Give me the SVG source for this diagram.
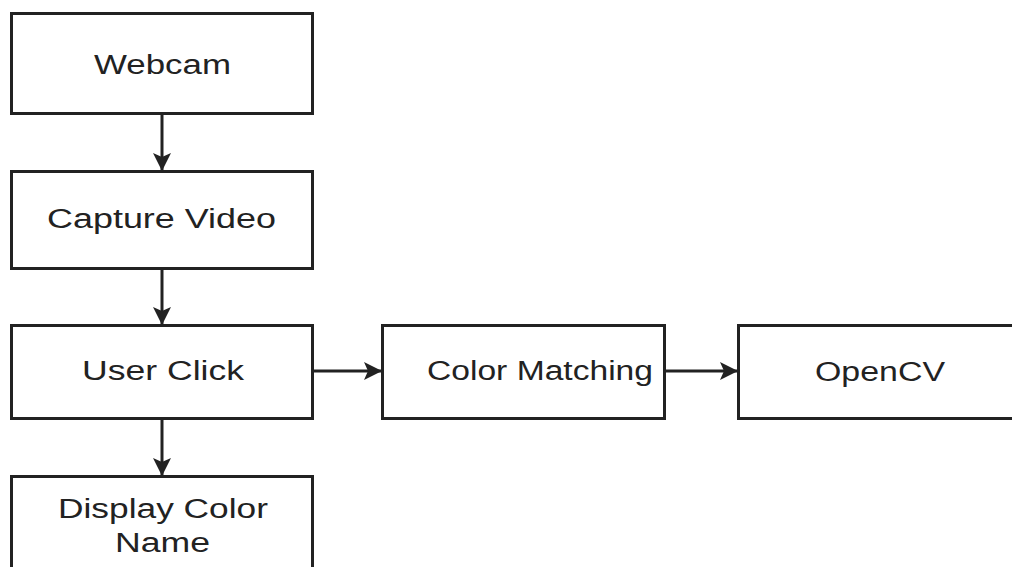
<svg xmlns="http://www.w3.org/2000/svg" width="1012" height="567" viewBox="0 0 1012 567">
  <style>
    .box { fill: #ffffff; stroke: #222222; stroke-width: 3; }
    .lbl { font-family: "Liberation Sans", Arial, sans-serif; font-size: 27px; fill: #222222; text-anchor: middle; }
    .conn { stroke: #222222; stroke-width: 3; fill: none; }
  </style>
  <defs>
    <marker id="arrow" viewBox="0 0 18 18" refX="17" refY="9" markerWidth="18" markerHeight="18" markerUnits="userSpaceOnUse" orient="auto">
      <path d="M0,0 L18,9 L0,18 L4,9 Z" fill="#222222"/>
    </marker>
  </defs>
  <rect width="1012" height="567" fill="#ffffff"/>

  <g id="connectors">
    <line class="conn" x1="162" y1="114" x2="162" y2="170" marker-end="url(#arrow)"/>
    <line class="conn" x1="162" y1="269" x2="162" y2="324" marker-end="url(#arrow)"/>
    <line class="conn" x1="162" y1="419" x2="162" y2="475" marker-end="url(#arrow)"/>
    <line class="conn" x1="313" y1="371" x2="381" y2="371" marker-end="url(#arrow)"/>
    <line class="conn" x1="665" y1="371" x2="737" y2="371" marker-end="url(#arrow)"/>
  </g>

  <g id="node-webcam">
    <rect class="box" x="11.5" y="13.5" width="301" height="100"/>
    <text class="lbl" transform="translate(162.5,74) scale(1.32,1)" textLength="103.8" lengthAdjust="spacingAndGlyphs">Webcam</text>
  </g>
  <g id="node-capture-video">
    <rect class="box" x="11.5" y="171.5" width="301" height="97"/>
    <text class="lbl" transform="translate(161.5,228) scale(1.32,1)" textLength="173.5" lengthAdjust="spacingAndGlyphs">Capture Video</text>
  </g>
  <g id="node-user-click">
    <rect class="box" x="11.5" y="325.5" width="301" height="93"/>
    <text class="lbl" transform="translate(163,380) scale(1.32,1)" textLength="122.7" lengthAdjust="spacingAndGlyphs">User Click</text>
  </g>
  <g id="node-display-color-name">
    <rect class="box" x="11.5" y="476.5" width="301" height="110"/>
    <text class="lbl" transform="translate(163,518) scale(1.32,1)" textLength="159.1" lengthAdjust="spacingAndGlyphs">Display Color</text>
    <text class="lbl" transform="translate(162.5,552) scale(1.32,1)" textLength="72" lengthAdjust="spacingAndGlyphs">Name</text>
  </g>
  <g id="node-color-matching">
    <rect class="box" x="382.5" y="325.5" width="282" height="93"/>
    <text class="lbl" transform="translate(540,380) scale(1.32,1)" textLength="171.2" lengthAdjust="spacingAndGlyphs">Color Matching</text>
  </g>
  <g id="node-opencv">
    <rect class="box" x="738.5" y="325.5" width="290" height="93"/>
    <text class="lbl" transform="translate(880,381) scale(1.32,1)" textLength="98.5" lengthAdjust="spacingAndGlyphs">OpenCV</text>
  </g>
</svg>
